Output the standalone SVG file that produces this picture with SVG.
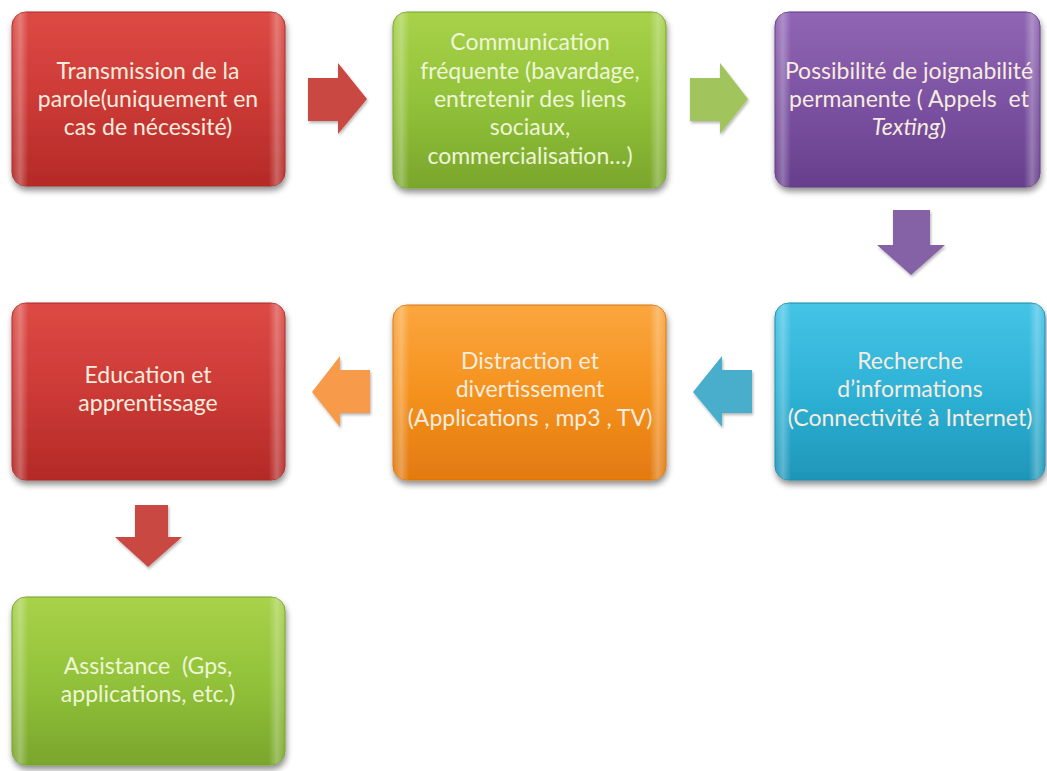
<svg xmlns="http://www.w3.org/2000/svg" width="1047" height="771" viewBox="0 0 1047 771">
<style>
.t{font-family:Lato,"Open Sans","Liberation Sans",sans-serif;font-size:23px;fill:#f6ecdf;text-anchor:middle;white-space:pre}
.tg{fill:#eef6d6}
.edge{fill:url(#bevel)}
</style>
<defs>
<filter id="sh" x="-10%" y="-10%" width="120%" height="125%">
<feGaussianBlur in="SourceAlpha" stdDeviation="3"/>
<feOffset dx="1" dy="4" result="b"/>
<feComponentTransfer><feFuncA type="linear" slope="0.45"/></feComponentTransfer>
<feMerge><feMergeNode/><feMergeNode in="SourceGraphic"/></feMerge>
</filter>
<filter id="ash" x="-20%" y="-20%" width="140%" height="140%">
<feGaussianBlur in="SourceAlpha" stdDeviation="1.5"/>
<feOffset dx="1" dy="2"/>
<feComponentTransfer><feFuncA type="linear" slope="0.3"/></feComponentTransfer>
<feMerge><feMergeNode/><feMergeNode in="SourceGraphic"/></feMerge>
</filter>
<linearGradient id="gRed" x1="0" y1="0" x2="0" y2="1"><stop offset="0" stop-color="#dd4a45"/><stop offset="0.5" stop-color="#cc3a36"/><stop offset="1" stop-color="#b42a27"/></linearGradient>
<linearGradient id="gGreen" x1="0" y1="0" x2="0" y2="1"><stop offset="0" stop-color="#a8d24a"/><stop offset="0.5" stop-color="#92c23a"/><stop offset="1" stop-color="#7aa62c"/></linearGradient>
<linearGradient id="gPurple" x1="0" y1="0" x2="0" y2="1"><stop offset="0" stop-color="#9066b4"/><stop offset="0.5" stop-color="#7c52a2"/><stop offset="1" stop-color="#673f8c"/></linearGradient>
<linearGradient id="gCyan" x1="0" y1="0" x2="0" y2="1"><stop offset="0" stop-color="#45c4e6"/><stop offset="0.5" stop-color="#2eb2d6"/><stop offset="1" stop-color="#1e96b8"/></linearGradient>
<linearGradient id="gOrange" x1="0" y1="0" x2="0" y2="1"><stop offset="0" stop-color="#fba63e"/><stop offset="0.5" stop-color="#f5921e"/><stop offset="1" stop-color="#e27a10"/></linearGradient>
<linearGradient id="bevel" x1="0" y1="0" x2="1" y2="0">
<stop offset="0" stop-color="#fff" stop-opacity="0.05"/>
<stop offset="0.03" stop-color="#fff" stop-opacity="0.28"/>
<stop offset="0.06" stop-color="#fff" stop-opacity="0"/>
<stop offset="0.94" stop-color="#fff" stop-opacity="0"/>
<stop offset="0.97" stop-color="#fff" stop-opacity="0.28"/>
<stop offset="1" stop-color="#fff" stop-opacity="0.05"/>
</linearGradient>
</defs>
<rect width="1047" height="771" fill="#fff"/>

<g id="connectors">
<polygon filter="url(#ash)" fill="#c94843" points="308,78 338,78 338,63 367,99 338,134 338,121 308,121"/>
<polygon filter="url(#ash)" fill="#a2c45c" points="690,78 720,78 720,63 748,99 720,134 720,121 690,121"/>
<polygon filter="url(#ash)" fill="#8562a6" points="893,210 930,210 930,245 945,245 911,275 877,245 893,245"/>
<polygon filter="url(#ash)" fill="#4aaecb" points="752,370 722,370 722,356 693,392 722,427 722,413 752,413"/>
<polygon filter="url(#ash)" fill="#f79a4a" points="370,370 340,370 340,356 312,392 340,427 340,413 370,413"/>
<polygon filter="url(#ash)" fill="#c94843" points="135,505 168,505 168,537 182,537 148,567 115,537 135,537"/>
</g>

<g id="n1">
<rect x="12" y="12" width="273" height="174" rx="14" fill="url(#gRed)" stroke="#a82824" stroke-width="1" filter="url(#sh)"/>
<rect x="12" y="12" width="273" height="174" rx="14" class="edge"/>
<text class="t" x="148" y="79">Transmission de la</text>
<text class="t" x="148" y="107">parole(uniquement en</text>
<text class="t" x="148" y="135">cas de nécessité)</text>
</g>

<g id="n2">
<rect x="393" y="12" width="273" height="176" rx="14" fill="url(#gGreen)" stroke="#74a02a" stroke-width="1" filter="url(#sh)"/>
<rect x="393" y="12" width="273" height="176" rx="14" class="edge"/>
<text class="t tg" x="530" y="50">Communication</text>
<text class="t tg" x="530" y="79">fréquente (bavardage,</text>
<text class="t tg" x="530" y="107">entretenir des liens</text>
<text class="t tg" x="530" y="135">sociaux,</text>
<text class="t tg" x="530" y="164">commercialisation…)</text>
</g>

<g id="n3">
<rect x="775" y="12" width="265" height="175" rx="14" fill="url(#gPurple)" stroke="#5e3a80" stroke-width="1" filter="url(#sh)"/>
<rect x="775" y="12" width="265" height="175" rx="14" class="edge"/>
<text class="t" x="909" y="79">Possibilité de joignabilité</text>
<text class="t" x="909" y="107">permanente ( Appels  et</text>
<text class="t" x="909" y="135"><tspan font-style="italic">Texting</tspan>)</text>
</g>

<g id="n4">
<rect x="775" y="303" width="270" height="177" rx="14" fill="url(#gCyan)" stroke="#1a8aa8" stroke-width="1" filter="url(#sh)"/>
<rect x="775" y="303" width="270" height="177" rx="14" class="edge"/>
<text class="t" x="910" y="369">Recherche</text>
<text class="t" x="910" y="397">d’informations</text>
<text class="t" x="910" y="426">(Connectivité à Internet)</text>
</g>

<g id="n5">
<rect x="393" y="305" width="273" height="175" rx="14" fill="url(#gOrange)" stroke="#d8740e" stroke-width="1" filter="url(#sh)"/>
<rect x="393" y="305" width="273" height="175" rx="14" class="edge"/>
<text class="t" x="530" y="369">Distraction et</text>
<text class="t" x="530" y="397">divertissement</text>
<text class="t" x="530" y="426">(Applications , mp3 , TV)</text>
</g>

<g id="n6">
<rect x="12" y="303" width="273" height="177" rx="14" fill="url(#gRed)" stroke="#a82824" stroke-width="1" filter="url(#sh)"/>
<rect x="12" y="303" width="273" height="177" rx="14" class="edge"/>
<text class="t" x="148" y="383">Education et</text>
<text class="t" x="148" y="411">apprentissage</text>
</g>

<g id="n7">
<rect x="12" y="597" width="273" height="168" rx="14" fill="url(#gGreen)" stroke="#74a02a" stroke-width="1" filter="url(#sh)"/>
<rect x="12" y="597" width="273" height="168" rx="14" class="edge"/>
<text class="t tg" x="148" y="674">Assistance  (Gps,</text>
<text class="t tg" x="148" y="702">applications, etc.)</text>
</g>
</svg>
